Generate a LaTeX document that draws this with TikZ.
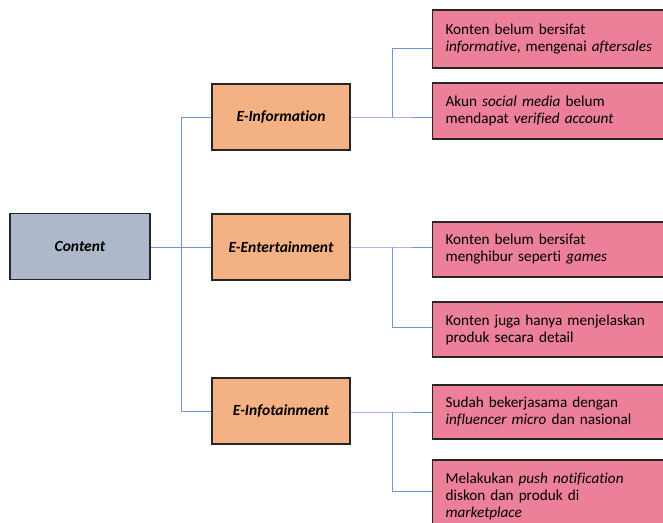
\documentclass[tikz,border=0pt]{standalone}
\usepackage{fontspec}
\setmainfont{Carlito}[RawFeature={-liga;-clig;-calt;-dlig}]
\definecolor{greyblue}{HTML}{ADB9CA}
\definecolor{orangec}{HTML}{F4B183}
\definecolor{pinkc}{HTML}{EC8099}
\definecolor{boxline}{HTML}{262626}
\definecolor{linkc}{HTML}{7396D6}
\tikzset{
  mainbox/.style={draw=boxline, line width=1.2pt, fill=greyblue, minimum width=140pt, minimum height=66pt, font=\fontsize{15.5}{17}\selectfont\bfseries\itshape},
  catbox/.style={draw=boxline, line width=1.2pt, fill=orangec, minimum width=138pt, minimum height=66pt, font=\fontsize{15.5}{17}\selectfont\bfseries\itshape},
  pinkbox/.style={draw=boxline, line width=1.2pt, fill=pinkc, anchor=west, text width=242pt, inner xsep=13pt, inner ysep=0pt, align=left, font=\fontsize{15.2}{17}\selectfont},
  link/.style={draw=linkc, line width=1pt}
}
\begin{document}
\begin{tikzpicture}[x=1pt,y=-1pt]
\useasboundingbox (0,0) rectangle (663,522);
\clip (0,0) rectangle (663,522);
\fill[white] (0,0) rectangle (663,522);
\coordinate (t1) at (181,117);
\coordinate (t3) at (181,411);
\coordinate (j1) at (392,117);
\coordinate (j1a) at (392,48);
\coordinate (j2) at (392,247);
\coordinate (j2a) at (392,327);
\coordinate (j3) at (392,412);
\coordinate (j3a) at (392,491);
% boxes
\node[mainbox] (content) at (80,246.5) {Content};
\node[catbox] (info) at (281,117) {E-Information};
\node[catbox] (ent) at (281,247) {E-Entertainment};
\node[catbox] (infot) at (281,411) {E-Infotainment};
\node[pinkbox, minimum height=58pt] (b1) at (432,39) {Konten belum bersifat\\\textit{informative}, mengenai \textit{aftersales}};
\node[pinkbox, minimum height=56pt] (b2) at (432,111) {Akun \textit{social media} belum\\mendapat \textit{verified account}};
\node[pinkbox, minimum height=55pt] (b3) at (432,249.5) {Konten belum bersifat\\menghibur seperti \textit{games}};
\node[pinkbox, minimum height=55pt] (b4) at (432,329.5) {Konten juga hanya menjelaskan\\produk secara detail};
\node[pinkbox, minimum height=54pt] (b5) at (432,412) {Sudah bekerjasama dengan\\\textit{influencer micro} dan nasional};
\node[pinkbox, minimum height=72pt] (b6) at (432,496) {Melakukan \textit{push notification}\\diskon dan produk di\\\textit{marketplace}};
% connectors
\draw[link] (content.east |- ent.west) -- (ent.west);
\draw[link] (info.west) -- (t1) -- (t3) -- (infot.west);
\draw[link] (info.east) -- (j1) -- (b2.west |- j1);
\draw[link] (j1) -- (j1a) -- (b1.west |- j1a);
\draw[link] (ent.east) -- (j2) -- (b3.west |- j2);
\draw[link] (j2) -- (j2a) -- (b4.west |- j2a);
\draw[link] (infot.east |- j3) -- (j3) -- (b5.west |- j3);
\draw[link] (j3) -- (j3a) -- (b6.west |- j3a);
\end{tikzpicture}
\end{document}
